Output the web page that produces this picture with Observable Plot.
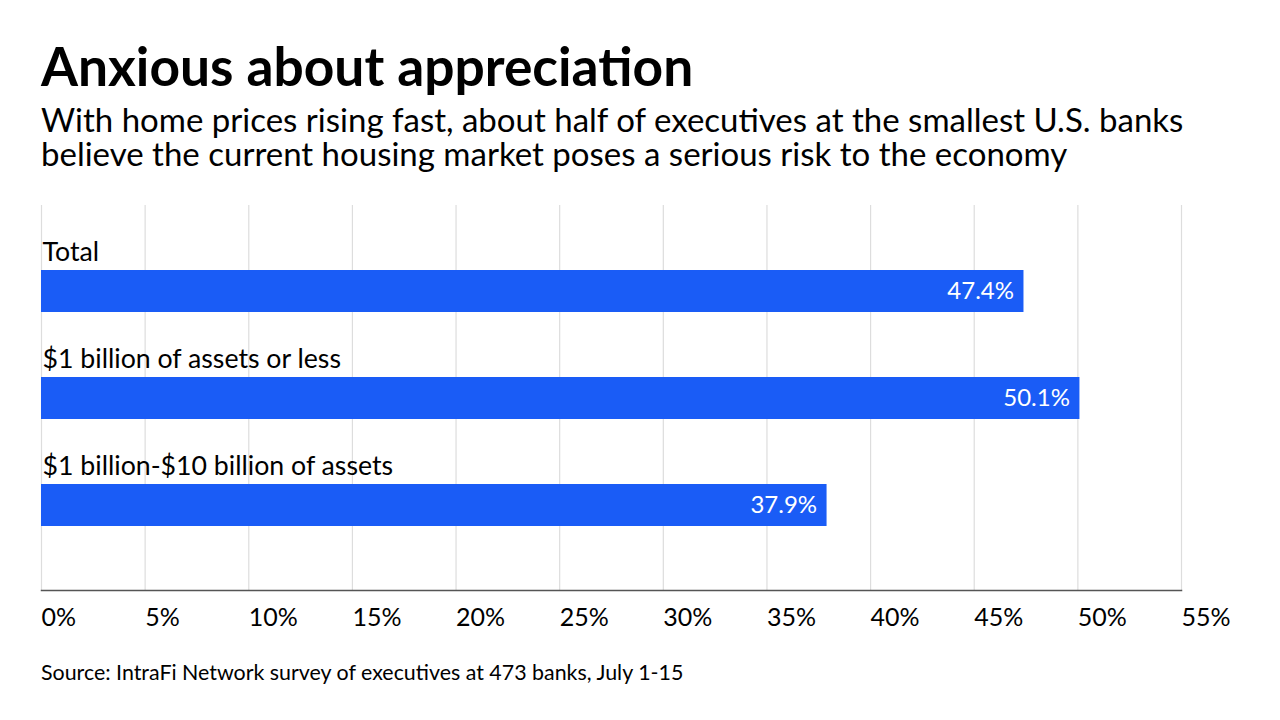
<!DOCTYPE html>
<html>
<head>
<meta charset="utf-8">
<script src="https://cdn.jsdelivr.net/npm/d3@7"></script>
<script src="https://cdn.jsdelivr.net/npm/@observablehq/plot@0.6"></script>
<style>
  html, body { margin: 0; padding: 0; background: #fff; }
  #wrap { position: relative; width: 1280px; height: 720px; overflow: hidden; font-family: Lato, "Open Sans", sans-serif; color: #000; }
  #title { position: absolute; left: 41px; top: 39px; font-size: 53.3px; line-height: 53px; font-weight: 700; white-space: nowrap; }
  #subtitle { position: absolute; left: 41px; top: 102px; font-size: 33px; line-height: 34px; font-weight: 400; white-space: nowrap; }
  #chart { position: absolute; left: 0; top: 190px; }
  #source { position: absolute; left: 41px; top: 660px; font-size: 21.4px; line-height: 24px; white-space: nowrap; }
</style>
</head>
<body>
<div id="wrap">
  <div id="title">Anxious about appreciation</div>
  <div id="subtitle">With home prices rising fast, about half of executives at the smallest U.S. banks<br>believe the current housing market poses a serious risk to the economy</div>
  <div id="chart"></div>
  <div id="source">Source: IntraFi Network survey of executives at 473 banks, July 1-15</div>
</div>
<script>
const categories = ["Total", "$1 billion of assets or less", "$1 billion-$10 billion of assets"];
const values = [47.4, 50.1, 37.9];
const tickValues = [0, 5, 10, 15, 20, 25, 30, 35, 40, 45, 50, 55];

const data = categories.map((c, i) => ({category: c, value: values[i]}));

const chart = Plot.plot({
  width: 1280,
  height: 460,
  marginLeft: 41,
  marginRight: 99,
  marginTop: 15,
  marginBottom: 60,
  style: {fontFamily: "Lato, 'Open Sans', sans-serif", background: "transparent"},
  x: {domain: [0, 55]},
  y: {domain: categories, range: [15, 336], padding: 0, axis: null},
  marks: [
    Plot.ruleX(tickValues, {stroke: "#dddddd", strokeWidth: 1.2}),
    Plot.barX(data, {y: "category", x: "value", insetTop: 65, fill: "#1a5cf6"}),
    Plot.text(data, {y: "category", x: 0, text: "category", textAnchor: "start", lineAnchor: "bottom", dx: 1, dy: 2, fontSize: 26.7, fill: "#000"}),
    Plot.text(data, {y: "category", x: "value", text: d => d.value.toFixed(1) + "%", textAnchor: "end", lineAnchor: "middle", dx: -10, dy: 32.5, fontSize: 24, fill: "#fff"}),
    Plot.frame({anchor: "bottom", stroke: "#555555", strokeWidth: 1.5}),
    Plot.axisX({ticks: tickValues, tickFormat: d => d + "%", tickSize: 0, tickPadding: 18, textAnchor: "start", fontSize: 25, fill: "#000", label: null})
  ]
});
document.getElementById("chart").appendChild(chart);
</script>
</body>
</html>
